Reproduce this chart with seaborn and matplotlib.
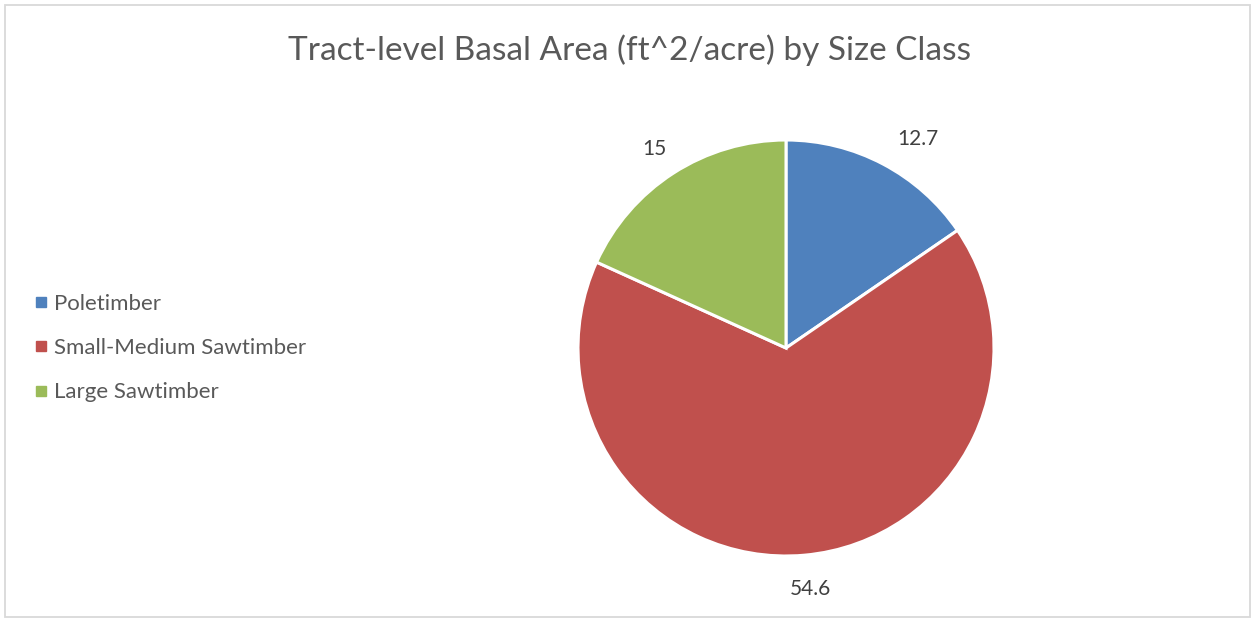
import matplotlib
matplotlib.use("Agg")
import matplotlib.pyplot as plt
from matplotlib.lines import Line2D
from matplotlib.patches import Rectangle
import numpy as np
import seaborn as sns

# Basal area by size class (ft^2/acre)
size_classes = ["Poletimber", "Small-Medium Sawtimber", "Large Sawtimber"]
basal_area = [12.7, 54.6, 15]
value_labels = ["12.7", "54.6", "15"]
slice_colors = ["#4F81BD", "#C0504D", "#9BBB59"]
title_text = "Tract-level Basal Area (ft^2/acre) by Size Class"

sns.set_theme(style="white")
plt.rcParams["font.family"] = ["Lato", "DejaVu Sans"]

W, H = 1254, 621
fig = plt.figure(figsize=(W / 100, H / 100), dpi=100)
fig.patch.set_facecolor("white")

# light frame around the chart area
fig.add_artist(Rectangle((5 / W, 4 / H), 1245 / W, 612 / H, transform=fig.transFigure,
                         fill=False, edgecolor="#D9D9D9", linewidth=1.3))

cx, cy, r = 786, H - 348, 208
ax = fig.add_axes([(cx - r) / W, (cy - r) / H, 2 * r / W, 2 * r / H])
wedges, _ = ax.pie(basal_area, colors=sns.color_palette(slice_colors), startangle=90,
                   counterclock=False, radius=1.0,
                   wedgeprops=dict(edgecolor="white", linewidth=2.2))
ax.set_xlim(-1, 1)
ax.set_ylim(-1, 1)
ax.set_aspect("equal")
ax.axis("off")

# value labels placed just outside each slice, aligned away from the pie
for w, lab in zip(wedges, value_labels):
    ang = np.deg2rad((w.theta1 + w.theta2) / 2)
    c, s = np.cos(ang), np.sin(ang)
    ha = "center" if abs(c) < 0.3 else ("left" if c > 0 else "right")
    va = "center" if abs(s) < 0.3 else ("bottom" if s > 0 else "top")
    ax.text(1.1 * c + 0.02, 1.1 * s - 0.015, lab, ha=ha, va=va,
            fontsize=15, color="#404040", clip_on=False)

fig.text(630 / W, 1 - 50 / H, title_text, ha="center", va="center",
         fontsize=24, color="#595959")

handles = [Line2D([0], [0], marker="s", linestyle="none", markersize=6.5,
                  markerfacecolor=c, markeredgecolor=c) for c in slice_colors]
fig.legend(handles, size_classes, loc="center left", bbox_to_anchor=(14 / W, 1 - 348 / H),
           frameon=False, fontsize=16, labelcolor="#595959", handlelength=0.6,
           handletextpad=0.3, labelspacing=1.1)

fig.savefig("out.png", dpi=100, facecolor="white")
